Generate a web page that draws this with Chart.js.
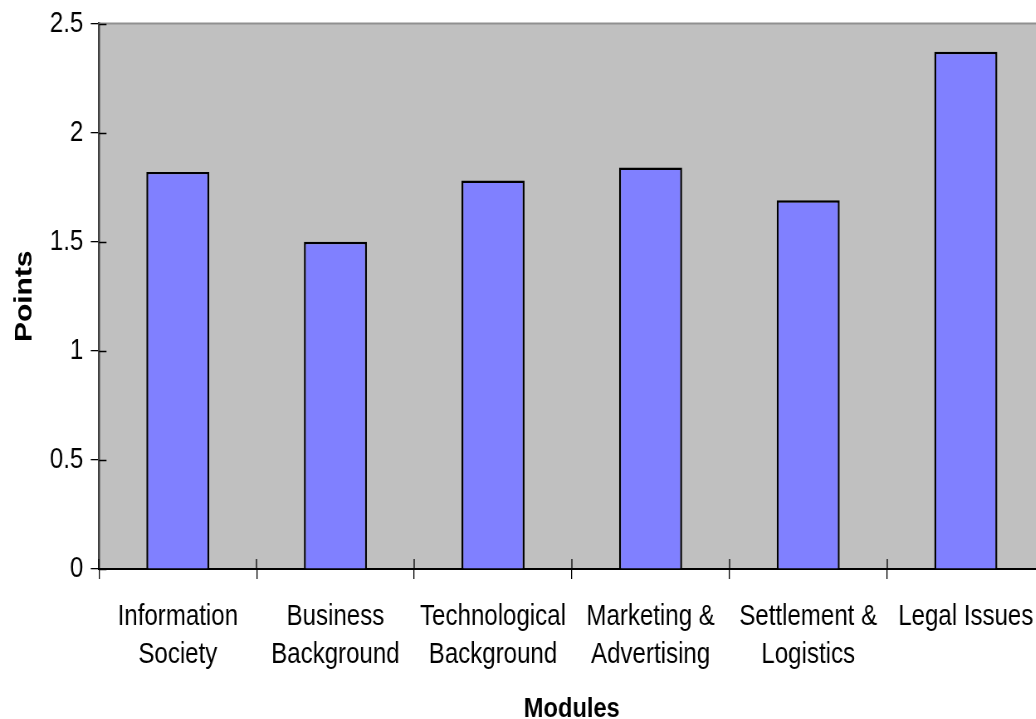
<!DOCTYPE html>
<html lang="en">
<head>
    <meta charset="UTF-8">
    <title>Points by module</title>
    <script src="https://cdn.jsdelivr.net/npm/chart.js"></script>
    <style>
        html, body { margin: 0; padding: 0; background: #ffffff; overflow: hidden; width: 1036px; height: 719px; }
        /* o original tem o texto estreito: desenha largo e comprime na horizontal */
        #grafico { display: block; width: 1264px; height: 719px; transform: scaleX(0.83); transform-origin: 0 0; }
    </style>
</head>
<body>
    <canvas id="grafico" width="1264" height="719"></canvas>

<script>
    const modulos = [
        ['Information', 'Society'],
        ['Business', 'Background'],
        ['Technological', 'Background'],
        ['Marketing &', 'Advertising'],
        ['Settlement &', 'Logistics'],
        'Legal Issues'
    ]
    const pontos = [1.82, 1.50, 1.78, 1.84, 1.69, 2.37]
    const marcasY = [0, 0.5, 1, 1.5, 2, 2.5]

    const fonte = "'Liberation Sans', Arial, sans-serif"

    // fundo cinza da area do grafico + tracos que cruzam os eixos
    const fundoPlugin = {
        id: 'fundo',
        beforeDraw(chart) {
            const { ctx, chartArea: a } = chart
            ctx.save()
            ctx.fillStyle = '#c0c0c0'
            ctx.fillRect(a.left, a.top, a.right - a.left, a.bottom - a.top)
            ctx.restore()
        },
        afterDraw(chart) {
            const { ctx, chartArea: a, scales } = chart
            ctx.save()
            ctx.strokeStyle = '#909090'
            ctx.lineWidth = 2
            ctx.beginPath()
            ctx.moveTo(a.left, a.top)
            ctx.lineTo(a.right, a.top)
            ctx.stroke()

            ctx.strokeStyle = '#000000'
            ctx.lineWidth = 1.3
            ctx.beginPath()
            scales.y.ticks.forEach(t => {
                const y = Math.round(scales.y.getPixelForValue(t.value)) + 0.5
                ctx.moveTo(a.left, y)
                ctx.lineTo(a.left + 9, y)
            })
            for (let i = 0; i <= modulos.length; i++) {
                const x = Math.round(scales.x.getPixelForValue(i - 0.5))
                ctx.moveTo(x, a.bottom)
                ctx.lineTo(x, a.bottom - 10)
            }
            ctx.stroke()
            ctx.restore()
        }
    }

    const config = {
        type: 'bar',
        data: {
            labels: modulos,
            datasets: [{
                data: pontos,
                backgroundColor: '#8080ff',
                borderColor: '#000000',
                borderWidth: 2.4,
                barPercentage: 0.4,
                categoryPercentage: 1
            }]
        },
        options: {
            responsive: false,
            animation: false,
            layout: { padding: { top: 21, left: 15, right: 0, bottom: 0 } },
            plugins: {
                legend: { display: false },
                tooltip: { enabled: false }
            },
            scales: {
                y: {
                    min: 0,
                    max: 2.5,
                    afterBuildTicks: (axis) => { axis.ticks = marcasY.map(v => ({ value: v })) },
                    ticks: {
                        color: '#000000',
                        font: { family: fonte, size: 29, lineHeight: 1 },
                        padding: 9,
                        callback: (v) => String(v)
                    },
                    grid: {
                        drawOnChartArea: false,
                        tickLength: 10,
                        lineWidth: 1.3,
                        color: '#000000'
                    },
                    border: { color: '#404040', width: 2.5 },
                    title: {
                        display: true,
                        text: 'Points',
                        color: '#000000',
                        font: { family: fonte, size: 30, weight: 'bold', lineHeight: 1 },
                        padding: { top: 0, bottom: 6 }
                    }
                },
                x: {
                    ticks: {
                        color: '#000000',
                        font: { family: fonte, size: 29, lineHeight: 1.31 },
                        padding: 19,
                        maxRotation: 0,
                        autoSkip: false
                    },
                    grid: {
                        drawOnChartArea: false,
                        tickLength: 10,
                        lineWidth: 1.3,
                        color: '#000000'
                    },
                    border: { color: '#000000', width: 2 },
                    title: {
                        display: true,
                        text: 'Modules',
                        color: '#000000',
                        font: { family: fonte, size: 28.5, weight: 'bold', lineHeight: 0.7 },
                        padding: { top: 6, bottom: 0 }
                    }
                }
            }
        },
        plugins: [fundoPlugin]
    }

    const grafico = new Chart(document.getElementById('grafico'), config)
</script>
</body>
</html>
